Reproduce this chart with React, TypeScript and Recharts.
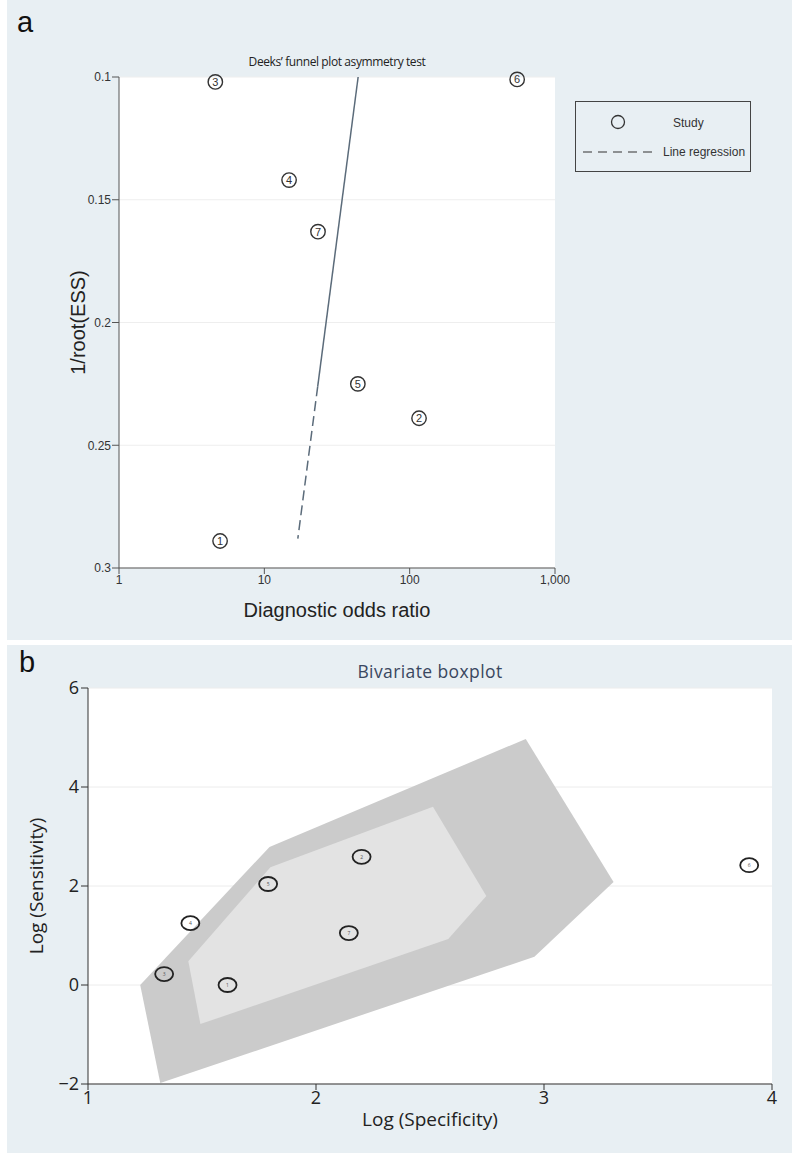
import { ScatterChart, Scatter, XAxis, YAxis, CartesianGrid, Legend } from "recharts";

// --- Panel a: Deeks' funnel plot ---
const studyIds = [1, 2, 3, 4, 5, 6, 7];
const deeksDor = [4.96, 116, 4.6, 14.8, 44, 549, 23.4];
const deeksInvRootEss = [0.289, 0.239, 0.102, 0.142, 0.225, 0.101, 0.163];
const regDor = [44.2, 23.3, 17.0];
const regInvRootEss = [0.1, 0.226, 0.288];
const dorTicks = [1, 10, 100, 1000];
const essTicks = [0.1, 0.15, 0.2, 0.25, 0.3];

// --- Panel b: bivariate boxplot ---
const logSpec = [1.612, 2.2, 1.334, 1.449, 1.79, 3.9, 2.144];
const logSens = [0.0, 2.59, 0.22, 1.25, 2.04, 2.42, 1.05];
const outerSpec = [1.317, 1.229, 1.796, 2.92, 3.305, 2.958];
const outerSens = [-1.98, 0.0, 2.79, 4.97, 2.08, 0.57];
const innerSpec = [1.493, 1.44, 1.8, 2.513, 2.747, 2.58];
const innerSens = [-0.79, 0.48, 2.38, 3.6, 1.8, 0.93];
const specTicks = [1, 2, 3, 4];
const sensTicks = [-2, 0, 2, 4, 6];

const BG = "#e8eff3";

const deeksPoints = studyIds.map((id, i) => ({ id, x: deeksDor[i], y: deeksInvRootEss[i] }));
const regSolid = [0, 1].map((i) => ({ x: regDor[i], y: regInvRootEss[i] }));
const regDashed = [1, 2].map((i) => ({ x: regDor[i], y: regInvRootEss[i] }));
const bivPoints = studyIds.map((id, i) => ({ id, x: logSpec[i], y: logSens[i] }));
const closed = (xs: number[], ys: number[]) =>
  [...xs, xs[0]].map((x, i) => ({ x, y: [...ys, ys[0]][i] }));
const outerHull = closed(outerSpec, outerSens);
const innerHull = closed(innerSpec, innerSens);

const NoShape = () => <g />;

const CircledNumber = (props: any) => {
  const { cx, cy, payload } = props;
  return (
    <g>
      <circle cx={cx} cy={cy} r={7.2} fill="none" stroke="#333" strokeWidth={1.4} />
      <text x={cx} y={cy} dy="0.36em" textAnchor="middle" fontSize={11} fill="#333" fontFamily="Liberation Sans">
        {payload.id}
      </text>
    </g>
  );
};

const OvalNumber = (props: any) => {
  const { cx, cy, payload } = props;
  return (
    <g>
      <ellipse cx={cx} cy={cy} rx={9} ry={7} fill="none" stroke="#222" strokeWidth={1.8} />
      <text x={cx} y={cy} dy="0.35em" textAnchor="middle" fontSize={5} fill="#555" fontFamily="Open Sans">
        {payload.id}
      </text>
    </g>
  );
};

const DeeksLegend = () => (
  <div style={{ width: 176, height: 71, boxSizing: "border-box", border: "1.5px solid #444" }}>
    <svg width={173} height={68} style={{ display: "block" }}>
      <circle cx={42} cy={20} r={6.5} fill="none" stroke="#333" strokeWidth={1.3} />
      <text x={97} y={25} fontSize={12} fill="#333" fontFamily="Liberation Sans">Study</text>
      <line x1={7} y1={50} x2={80} y2={50} stroke="#333" strokeWidth={1.2} strokeDasharray="9 6" />
      <text x={87} y={54} fontSize={12} fill="#333" fontFamily="Liberation Sans">Line regression</text>
    </svg>
  </div>
);

const minusFmt = (v: number) => (v < 0 ? `\u2212${Math.abs(v)}` : `${v}`);

export default function App() {
  return (
    <div style={{ position: "absolute", left: 0, top: 0, width: 800, height: 1169, background: "#fff" }}>
      {/* panel a */}
      <div style={{ position: "absolute", left: 7, top: 0, width: 785, height: 640, background: BG }}>
        <ScatterChart width={785} height={640} margin={{ top: 77, right: 237, bottom: 16, left: 52 }}>
          <CartesianGrid vertical={false} horizontal fill="#fff" stroke="#eeeeee" />
          <XAxis
            type="number"
            dataKey="x"
            scale="log"
            domain={[1, 1000]}
            ticks={dorTicks}
            height={56}
            stroke="#555"
            tickSize={6}
            tickMargin={1}
            tick={{ fill: "#333", fontSize: 12, fontFamily: "Liberation Sans" }}
            tickFormatter={(v: number) => v.toLocaleString("en-US")}
            label={{ value: "Diagnostic odds ratio", position: "insideBottom", offset: 7, style: { fill: "#222", fontSize: 20, fontFamily: "Liberation Sans" } }}
          />
          <YAxis
            type="number"
            dataKey="y"
            domain={[0.1, 0.3]}
            reversed
            ticks={essTicks}
            width={60}
            stroke="#555"
            tickSize={7}
            tickMargin={1}
            tick={{ fill: "#333", fontSize: 12, fontFamily: "Liberation Sans" }}
            label={{ value: "1/root(ESS)", angle: -90, position: "insideLeft", offset: 19, style: { textAnchor: "middle", fill: "#222", fontSize: 20, fontFamily: "Liberation Sans" } }}
          />
          <Scatter data={regSolid} shape={NoShape} line={{ stroke: "#5b6b7a", strokeWidth: 1.5 }} fill="#5b6b7a" isAnimationActive={false} />
          <Scatter data={regDashed} shape={NoShape} line={{ stroke: "#5b6b7a", strokeWidth: 1.5, strokeDasharray: "10 5" }} fill="#5b6b7a" isAnimationActive={false} />
          <Scatter data={deeksPoints} shape={CircledNumber} fill="#333" isAnimationActive={false} />
          <Legend
            layout="vertical"
            align="center"
            verticalAlign="middle"
            wrapperStyle={{ left: 568, top: 101, width: 176, height: 71 }}
            content={DeeksLegend}
          />
        </ScatterChart>
      </div>
      <div style={{ position: "absolute", left: 17, top: 7.5, fontSize: 29, lineHeight: 1, fontFamily: "Liberation Sans", color: "#111" }}>a</div>
      <div style={{ position: "absolute", left: 187, top: 56, width: 300, textAlign: "center", fontSize: 12, lineHeight: 1, letterSpacing: -0.4, fontFamily: "Open Sans", color: "#222" }}>
        Deeks’ funnel plot asymmetry test
      </div>

      {/* panel b */}
      <div style={{ position: "absolute", left: 7, top: 645, width: 785, height: 508, background: BG }}>
        <ScatterChart width={785} height={508} margin={{ top: 43, right: 20, bottom: 17, left: 9 }}>
          <CartesianGrid vertical={false} horizontal fill="#fff" stroke="#ececec" />
          <XAxis
            type="number"
            dataKey="x"
            domain={[1, 4]}
            ticks={specTicks}
            height={52}
            stroke="#333"
            tickSize={6}
            tickMargin={1}
            tick={{ fill: "#222", fontSize: 18, fontFamily: "Open Sans" }}
            label={{ value: "Log (Specificity)", position: "insideBottom", offset: 10, style: { fill: "#222", fontSize: 19, fontFamily: "Open Sans" } }}
          />
          <YAxis
            type="number"
            dataKey="y"
            domain={[-2, 6]}
            ticks={sensTicks}
            width={72}
            stroke="#333"
            tickSize={7}
            tickMargin={2}
            tick={{ fill: "#222", fontSize: 18, fontFamily: "Open Sans" }}
            tickFormatter={minusFmt}
            label={{ value: "Log (Sensitivity)", angle: -90, position: "insideLeft", offset: 20, style: { textAnchor: "middle", fill: "#222", fontSize: 19, fontFamily: "Open Sans" } }}
          />
          <Scatter data={outerHull} shape={NoShape} line={{ fill: "#cbcbcb", stroke: "none" }} fill="#cbcbcb" isAnimationActive={false} />
          <Scatter data={innerHull} shape={NoShape} line={{ fill: "#e3e3e3", stroke: "none" }} fill="#e3e3e3" isAnimationActive={false} />
          <Scatter data={bivPoints} shape={OvalNumber} fill="#222" isAnimationActive={false} />
        </ScatterChart>
      </div>
      <div style={{ position: "absolute", left: 19, top: 647.5, fontSize: 29, lineHeight: 1, fontFamily: "Liberation Sans", color: "#111" }}>b</div>
      <div style={{ position: "absolute", left: 280, top: 663, width: 300, textAlign: "center", fontSize: 17.5, lineHeight: 1, letterSpacing: 0.4, fontFamily: "Open Sans", color: "#3a4760" }}>
        Bivariate boxplot
      </div>
    </div>
  );
}
